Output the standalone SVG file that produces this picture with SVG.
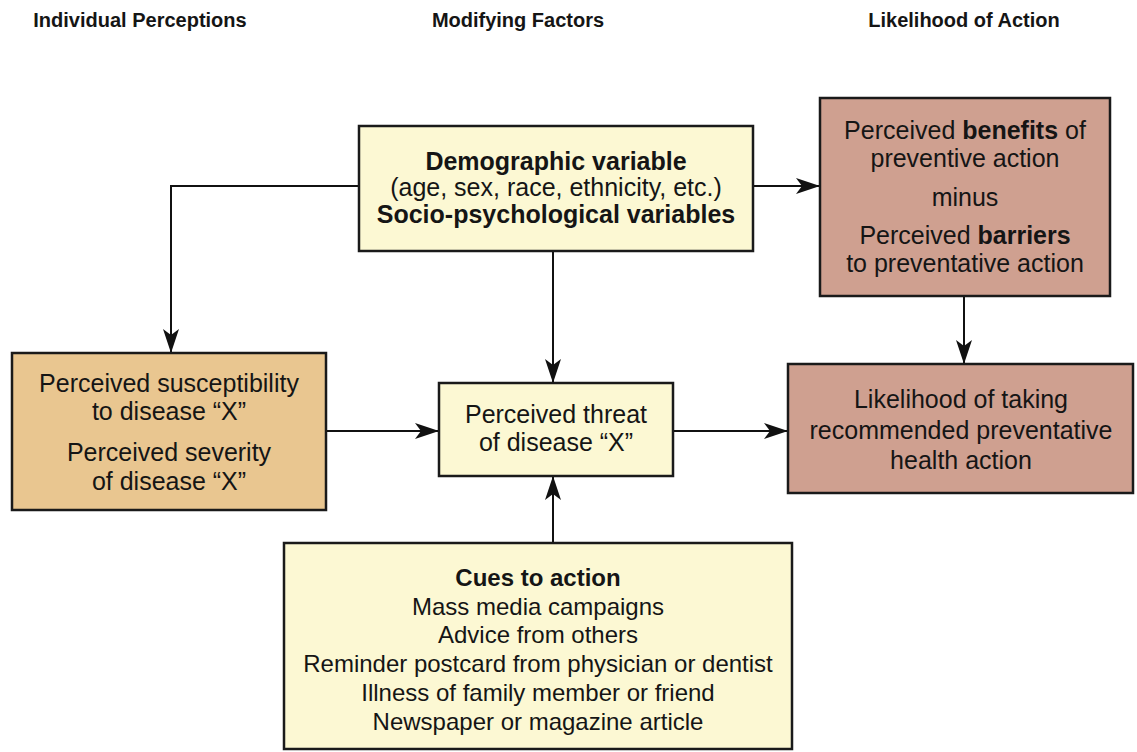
<svg xmlns="http://www.w3.org/2000/svg" width="1137" height="752" viewBox="0 0 1137 752">
  <style>
    text { font-family: "Liberation Sans", Arial, sans-serif; fill: #151515; text-anchor: middle; }
    .hdr { font-size: 20px; font-weight: bold; }
    .t { font-size: 25px; }
    .s { font-size: 24px; }
    .b { font-weight: bold; }
    .box { stroke: #1a1a1a; stroke-width: 2.5; }
    .yel { fill: #fcf8d3; }
    .tan { fill: #e9c690; }
    .ros { fill: #cfa090; }
    .conn { fill: none; stroke: #111; stroke-width: 2; }
  </style>
  <defs>
    <marker id="arr" markerUnits="userSpaceOnUse" markerWidth="26" markerHeight="18" refX="24" refY="8" orient="auto">
      <path d="M0,0 L24,8 L0,16 L6,8 z" fill="#111"/>
    </marker>
  </defs>
  <rect width="1137" height="752" fill="#ffffff"/>

  <!-- column headings -->
  <g id="headings">
    <text class="hdr" x="140" y="27">Individual Perceptions</text>
    <text class="hdr" x="518" y="27">Modifying Factors</text>
    <text class="hdr" x="964" y="27">Likelihood of Action</text>
  </g>

  <!-- connectors -->
  <g id="connectors">
    <polyline class="conn" points="359,186 171,186 171,353" marker-end="url(#arr)"/>
    <line class="conn" x1="753" y1="186" x2="820" y2="186" marker-end="url(#arr)"/>
    <line class="conn" x1="553" y1="251" x2="553" y2="383" marker-end="url(#arr)"/>
    <line class="conn" x1="326" y1="431" x2="439" y2="431" marker-end="url(#arr)"/>
    <line class="conn" x1="673" y1="431" x2="788" y2="431" marker-end="url(#arr)"/>
    <line class="conn" x1="964" y1="296" x2="964" y2="364" marker-end="url(#arr)"/>
    <line class="conn" x1="553" y1="543" x2="553" y2="476" marker-end="url(#arr)"/>
  </g>

  <g id="demographic">
    <rect class="box yel" x="359" y="126" width="394" height="125"/>
    <text class="t b" x="556" y="170">Demographic variable</text>
    <text class="t" x="556" y="196">(age, sex, race, ethnicity, etc.)</text>
    <text class="t b" x="556" y="223">Socio-psychological variables</text>
  </g>

  <g id="benefits-barriers">
    <rect class="box ros" x="820" y="98" width="290" height="198"/>
    <text class="t" x="965" y="139">Perceived <tspan class="b">benefits</tspan> of</text>
    <text class="t" x="965" y="167">preventive action</text>
    <text class="t" x="965" y="206">minus</text>
    <text class="t" x="965" y="244">Perceived <tspan class="b">barriers</tspan></text>
    <text class="t" x="965" y="272">to preventative action</text>
  </g>

  <g id="individual-perceptions">
    <rect class="box tan" x="12" y="353" width="314" height="157"/>
    <text class="t" x="169" y="392">Perceived susceptibility</text>
    <text class="t" x="169" y="420">to disease “X”</text>
    <text class="t" x="169" y="461">Perceived severity</text>
    <text class="t" x="169" y="490">of disease “X”</text>
  </g>

  <g id="perceived-threat">
    <rect class="box yel" x="439" y="383" width="234" height="93"/>
    <text class="t" x="556" y="423">Perceived threat</text>
    <text class="t" x="556" y="451">of disease “X”</text>
  </g>

  <g id="likelihood">
    <rect class="box ros" x="788" y="364" width="345" height="129"/>
    <text class="t" x="961" y="408">Likelihood of taking</text>
    <text class="t" x="961" y="439">recommended preventative</text>
    <text class="t" x="961" y="469">health action</text>
  </g>

  <g id="cues">
    <rect class="box yel" x="284" y="543" width="508" height="206"/>
    <text class="s b" x="538" y="586">Cues to action</text>
    <text class="s" x="538" y="615">Mass media campaigns</text>
    <text class="s" x="538" y="643">Advice from others</text>
    <text class="s" x="538" y="672">Reminder postcard from physician or dentist</text>
    <text class="s" x="538" y="701">Illness of family member or friend</text>
    <text class="s" x="538" y="730">Newspaper or magazine article</text>
  </g>
</svg>
